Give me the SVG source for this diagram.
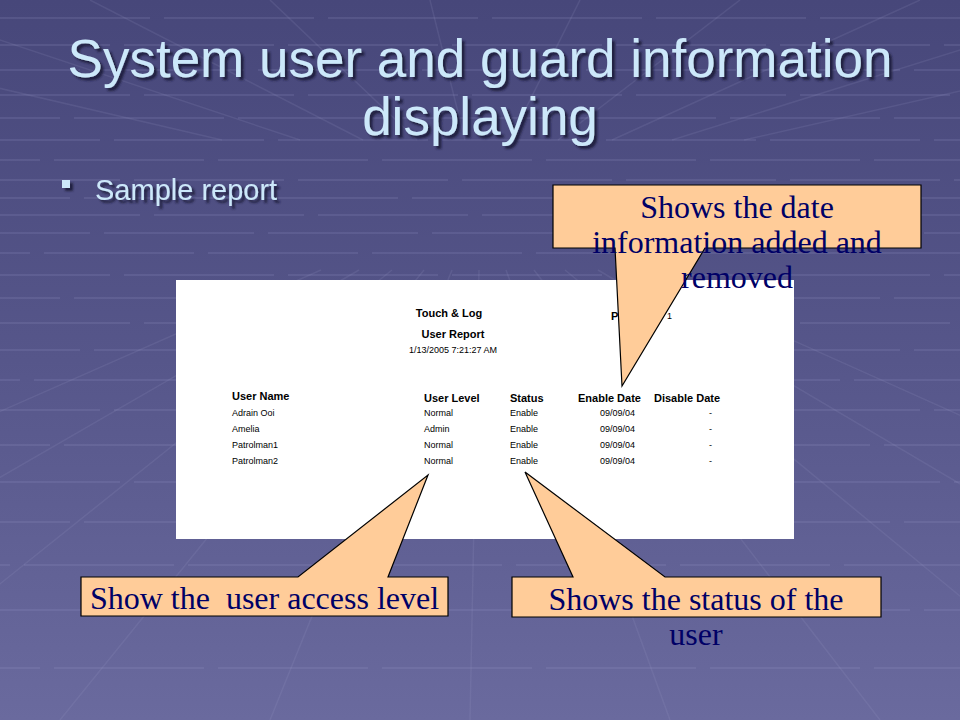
<svg xmlns="http://www.w3.org/2000/svg" width="960" height="720" viewBox="0 0 960 720">
  <defs>
    <linearGradient id="bg" x1="0" y1="0" x2="0" y2="1">
      <stop offset="0" stop-color="#47477a"/>
      <stop offset="0.5" stop-color="#56568a"/>
      <stop offset="1" stop-color="#6a6a9e"/>
    </linearGradient>
    <filter id="shadow" x="-5%" y="-20%" width="110%" height="140%">
      <feGaussianBlur in="SourceAlpha" stdDeviation="0.8"/>
      <feOffset dx="3" dy="3" result="o"/>
      <feFlood flood-color="#1c1c3a" flood-opacity="0.9"/>
      <feComposite in2="o" operator="in"/>
      <feMerge><feMergeNode/><feMergeNode in="SourceGraphic"/></feMerge>
    </filter>
  </defs>
  <style>
    .grid line { stroke: #a0a0d0; stroke-opacity: 0.22; stroke-width: 1.5; }
    .grid .h { stroke-dasharray: 150 14; }
    .grid .r { stroke-opacity: 0.14; }
    .title { font-family: "Liberation Sans", Arial, sans-serif; fill: #cce8fa; }
    .rep { font-family: "Liberation Sans", Arial, sans-serif; fill: #000; }
    .rb { font-weight: bold; font-size: 11px; }
    .rr { font-size: 9px; }
    .callout { fill: #ffcc99; stroke: #000; stroke-width: 1.2; stroke-linejoin: miter; }
    .ct { font-family: "Liberation Serif", "Times New Roman", serif; font-size: 32px; fill: #000066; text-anchor: middle; }
  </style>

  <g id="background">
    <rect x="0" y="0" width="960" height="720" fill="url(#bg)"/>
    <g class="grid">
      <line class="h" x1="0" y1="18" x2="960" y2="18"/>
      <line class="h" x1="-40" y1="45" x2="960" y2="45"/>
      <line class="h" x1="-70" y1="70" x2="960" y2="70"/>
      <line class="h" x1="-20" y1="95" x2="960" y2="95"/>
      <line class="h" x1="-90" y1="118" x2="960" y2="118"/>
      <line class="h" x1="-50" y1="140" x2="960" y2="140"/>
      <line class="h" x1="-110" y1="160" x2="960" y2="160"/>
      <line class="h" x1="-30" y1="180" x2="960" y2="180"/>
      <line class="h" x1="-80" y1="198" x2="960" y2="198"/>
      <line class="h" x1="-10" y1="215" x2="960" y2="215"/>
      <line class="h" x1="-60" y1="233" x2="960" y2="233"/>
      <line class="h" x1="-120" y1="253" x2="960" y2="253"/>
      <line class="h" x1="-40" y1="275" x2="960" y2="275"/>
      <line class="h" x1="-90" y1="298" x2="960" y2="298"/>
      <line class="h" x1="-20" y1="323" x2="960" y2="323"/>
      <line class="h" x1="-70" y1="350" x2="960" y2="350"/>
      <line class="h" x1="-130" y1="380" x2="960" y2="380"/>
      <line class="h" x1="-50" y1="410" x2="960" y2="410"/>
      <line class="h" x1="-100" y1="445" x2="960" y2="445"/>
      <line class="h" x1="-30" y1="482" x2="960" y2="482"/>
      <line class="h" x1="-80" y1="522" x2="960" y2="522"/>
      <line class="h" x1="-140" y1="565" x2="960" y2="565"/>
      <line class="h" x1="-60" y1="610" x2="960" y2="610"/>
      <line class="h" x1="-110" y1="668" x2="960" y2="668"/>
      <line class="r" x1="321" y1="270" x2="-700" y2="720"/>
      <line class="r" x1="359" y1="270" x2="-420" y2="720"/>
      <line class="r" x1="392" y1="270" x2="-170" y2="720"/>
      <line class="r" x1="424" y1="270" x2="60" y2="720"/>
      <line class="r" x1="452" y1="270" x2="270" y2="720"/>
      <line class="r" x1="479" y1="270" x2="470" y2="720"/>
      <line class="r" x1="506" y1="270" x2="670" y2="720"/>
      <line class="r" x1="534" y1="270" x2="880" y2="720"/>
      <line class="r" x1="565" y1="270" x2="1110" y2="720"/>
      <line class="r" x1="598" y1="270" x2="1360" y2="720"/>
      <line class="r" x1="636" y1="270" x2="1640" y2="720"/>
      <line class="r" x1="222" y1="140" x2="-380" y2="0"/>
      <line class="r" x1="300" y1="140" x2="-120" y2="0"/>
      <line class="r" x1="363" y1="140" x2="90" y2="0"/>
      <line class="r" x1="417" y1="140" x2="270" y2="0"/>
      <line class="r" x1="465" y1="140" x2="430" y2="0"/>
      <line class="r" x1="510" y1="140" x2="580" y2="0"/>
      <line class="r" x1="558" y1="140" x2="740" y2="0"/>
      <line class="r" x1="612" y1="140" x2="920" y2="0"/>
      <line class="r" x1="672" y1="140" x2="1120" y2="0"/>
      <line class="r" x1="744" y1="140" x2="1360" y2="0"/>
    </g>
  </g>

  <g id="title" filter="url(#shadow)">
    <text class="title" x="480" y="77" font-size="53" text-anchor="middle">System user and guard information</text>
    <text class="title" x="480" y="135" font-size="53" text-anchor="middle">displaying</text>
  </g>

  <g id="bullet" filter="url(#shadow)">
    <rect x="62" y="180" width="8" height="8" fill="#cce8fa"/>
    <text class="title" x="95" y="200" font-size="29">Sample report</text>
  </g>

  <g id="report">
    <rect x="176" y="280" width="618" height="259" fill="#ffffff"/>
    <text class="rep rb" x="449" y="317" font-size="11.5" text-anchor="middle">Touch &amp; Log</text>
    <text class="rep rb" x="611" y="320">P</text>
    <text class="rep rr" x="667" y="319">1</text>
    <text class="rep rb" x="453" y="338" text-anchor="middle">User Report</text>
    <text class="rep rr" x="453" y="353" text-anchor="middle">1/13/2005 7:21:27 AM</text>
    <text class="rep rb" x="232" y="400">User Name</text>
    <text class="rep rb" x="424" y="402">User Level</text>
    <text class="rep rb" x="510" y="402">Status</text>
    <text class="rep rb" x="578" y="402">Enable Date</text>
    <text class="rep rb" x="654" y="402">Disable Date</text>
    <text class="rep rr" x="232" y="416">Adrain Ooi</text>
    <text class="rep rr" x="424" y="416">Normal</text>
    <text class="rep rr" x="510" y="416">Enable</text>
    <text class="rep rr" x="635" y="416" text-anchor="end">09/09/04</text>
    <text class="rep rr" x="712" y="416" text-anchor="end">-</text>
    <text class="rep rr" x="232" y="432">Amelia</text>
    <text class="rep rr" x="424" y="432">Admin</text>
    <text class="rep rr" x="510" y="432">Enable</text>
    <text class="rep rr" x="635" y="432" text-anchor="end">09/09/04</text>
    <text class="rep rr" x="712" y="432" text-anchor="end">-</text>
    <text class="rep rr" x="232" y="448">Patrolman1</text>
    <text class="rep rr" x="424" y="448">Normal</text>
    <text class="rep rr" x="510" y="448">Enable</text>
    <text class="rep rr" x="635" y="448" text-anchor="end">09/09/04</text>
    <text class="rep rr" x="712" y="448" text-anchor="end">-</text>
    <text class="rep rr" x="232" y="464">Patrolman2</text>
    <text class="rep rr" x="424" y="464">Normal</text>
    <text class="rep rr" x="510" y="464">Enable</text>
    <text class="rep rr" x="635" y="464" text-anchor="end">09/09/04</text>
    <text class="rep rr" x="712" y="464" text-anchor="end">-</text>
  </g>

  <g id="connectors"/>

  <g id="callout-date">
    <path class="callout" d="M553,185 H921 V248 H705 L622,386 L615,248 H553 Z"/>
    <text class="ct" x="737" y="218">Shows the date</text>
    <text class="ct" x="737" y="253">information added and</text>
    <text class="ct" x="737" y="288">removed</text>
  </g>

  <g id="callout-level">
    <path class="callout" d="M81,577 H298 L428,475 L388,577 H448 V616 H81 Z"/>
    <text class="ct" x="264.5" y="609" xml:space="preserve">Show the  user access level</text>
  </g>

  <g id="callout-status">
    <path class="callout" d="M512,577 H573 L525,472 L665,577 H881 V617 H512 Z"/>
    <text class="ct" x="696" y="610">Shows the status of the</text>
    <text class="ct" x="696" y="645">user</text>
  </g>
</svg>
